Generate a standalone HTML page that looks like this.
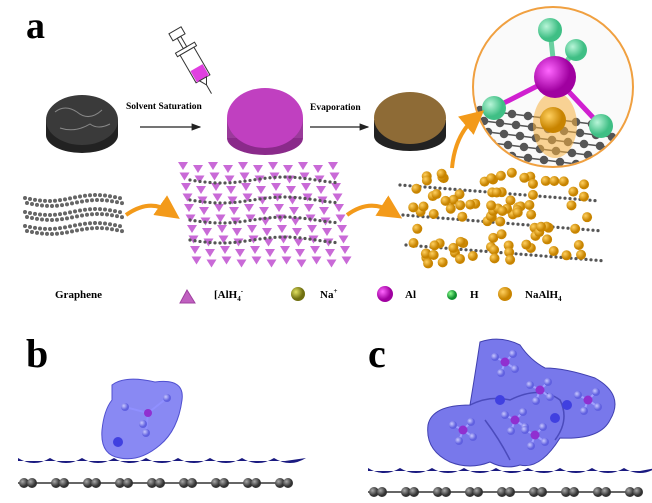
<!DOCTYPE html><html><head><style>body{margin:0;background:#fff}svg{display:block}text{font-family:"Liberation Serif",serif;font-weight:bold}</style></head><body>
<svg id="s" width="652" height="503" viewBox="0 0 652 503" xmlns="http://www.w3.org/2000/svg">
<defs>
<clipPath id="cl"><circle cx="553" cy="87" r="79"/></clipPath>
<radialGradient id="gb" cx="35%" cy="35%"><stop offset="0" stop-color="#aaa"/><stop offset="1" stop-color="#333"/></radialGradient>
<radialGradient id="go" cx="35%" cy="35%"><stop offset="0" stop-color="#ffd060"/><stop offset="1" stop-color="#c88400"/></radialGradient>
<radialGradient id="gm" cx="35%" cy="35%"><stop offset="0" stop-color="#ff66ff"/><stop offset="1" stop-color="#a000a0"/></radialGradient>
<radialGradient id="gh" cx="35%" cy="35%"><stop offset="0" stop-color="#b8f5d8"/><stop offset="1" stop-color="#3fbf85"/></radialGradient>
<radialGradient id="gn" cx="35%" cy="35%"><stop offset="0" stop-color="#e0e060"/><stop offset="1" stop-color="#707010"/></radialGradient>
<radialGradient id="gg" cx="35%" cy="35%"><stop offset="0" stop-color="#90ff90"/><stop offset="1" stop-color="#109030"/></radialGradient>
<radialGradient id="gp" cx="35%" cy="35%"><stop offset="0" stop-color="#c8c8ff"/><stop offset="1" stop-color="#6060e0"/></radialGradient>
<marker id="ar" markerWidth="8" markerHeight="8" refX="7" refY="4" orient="auto"><path d="M0,1 L8,4 L0,7z" fill="#222"/></marker>
<marker id="ao" markerWidth="6" markerHeight="6" refX="3" refY="3" orient="auto"><path d="M0,0 L6,3 L0,6z" fill="#f39a1a"/></marker>
</defs>
<text x="26" y="38" font-size="38">a</text>
<ellipse cx="82" cy="135" rx="36" ry="18" fill="#222"/>
<rect x="46" y="120" width="72" height="15" fill="#222"/>
<ellipse cx="82" cy="120" rx="36" ry="25" fill="#3a3a3a"/>
<path d="M55 112 q10-8 22 0 q12 10 25 -2 M60 128 q15 5 30-4 q8 6 20 0" stroke="#888" fill="none" stroke-width="1"/>
<g transform="rotate(-30 195 65)"><rect x="188" y="25" width="14" height="8" fill="none" stroke="#333"/><rect x="193" y="33" width="4" height="12" fill="none" stroke="#333"/><rect x="184" y="45" width="22" height="4" fill="none" stroke="#333"/><rect x="187" y="49" width="16" height="32" fill="#fff" stroke="#333"/><rect x="188" y="68" width="14" height="13" fill="#e040e0"/><path d="M191 81 L199 81 L195 88z" fill="#fff" stroke="#333"/><line x1="195" y1="88" x2="195" y2="98" stroke="#333"/></g>
<text x="126" y="109" font-size="9.5">Solvent Saturation</text>
<line x1="140" y1="127" x2="200" y2="127" stroke="#222" stroke-width="1.2" marker-end="url(#ar)"/>
<ellipse cx="265" cy="138" rx="38" ry="17" fill="#8a2a8a"/>
<rect x="227" y="118" width="76" height="20" fill="#9a3a9a"/>
<ellipse cx="265" cy="118" rx="38" ry="30" fill="#c040c0"/>
<text x="310" y="110" font-size="9.5">Evaporation</text>
<line x1="310" y1="127" x2="368" y2="127" stroke="#222" stroke-width="1.2" marker-end="url(#ar)"/>
<ellipse cx="410" cy="136" rx="36" ry="15" fill="#222"/>
<rect x="374" y="120" width="72" height="16" fill="#222"/>
<ellipse cx="410" cy="118" rx="36" ry="26" fill="#8e6b36"/>
<circle cx="553" cy="87" r="80" fill="#fafafa" stroke="#f0a040" stroke-width="2"/>
<g clip-path="url(#cl)">
<g id="zg" stroke="#555" stroke-width="1.5"></g>
<ellipse cx="555" cy="125" rx="22" ry="33" fill="#f5b040" opacity="0.55"/>
<circle cx="553" cy="120" r="13" fill="url(#go)"/>
<g stroke-width="5" stroke-linecap="round"><line x1="555" y1="77" x2="550" y2="30" stroke="#6ad0a0"/><line x1="555" y1="77" x2="575" y2="50" stroke="#6ad0a0"/><line x1="555" y1="77" x2="494" y2="108" stroke="#d020d0"/><line x1="555" y1="77" x2="601" y2="126" stroke="#d020d0"/></g>
<circle cx="550" cy="30" r="12" fill="url(#gh)"/><circle cx="576" cy="50" r="11" fill="url(#gh)"/>
<circle cx="555" cy="77" r="21" fill="url(#gm)"/>
<circle cx="494" cy="108" r="12" fill="url(#gh)"/><circle cx="601" cy="126" r="12" fill="url(#gh)"/>
</g>
<path d="M452 168 Q455 135 475 118" stroke="#f39a1a" stroke-width="4" fill="none" marker-end="url(#ao)"/>
<g id="gs" stroke="#666" stroke-width="0.8" fill="none"></g>
<path d="M126 215 Q150 198 170 212" stroke="#f39a1a" stroke-width="4" fill="none" marker-end="url(#ao)"/>
<g id="tri"></g>
<path d="M347 215 Q370 198 392 212" stroke="#f39a1a" stroke-width="4" fill="none" marker-end="url(#ao)"/>
<g id="na"></g>
<text x="55" y="298" font-size="11">Graphene</text>
<path d="M187 290 L180 303 L195 303z" fill="#c060c0" stroke="#a040a0"/>
<text x="214" y="298" font-size="11">[AlH<tspan font-size="7" dy="3">4</tspan><tspan font-size="7" dy="-8">-</tspan></text>
<circle cx="298" cy="294" r="7" fill="url(#gn)"/>
<text x="320" y="298" font-size="11">Na<tspan font-size="7" dy="-5">+</tspan></text>
<circle cx="385" cy="294" r="8" fill="url(#gm)"/>
<text x="405" y="298" font-size="11">Al</text>
<circle cx="452" cy="295" r="5" fill="url(#gg)"/>
<text x="470" y="298" font-size="11">H</text>
<circle cx="505" cy="294" r="7" fill="url(#go)"/>
<text x="525" y="298" font-size="11">NaAlH<tspan font-size="7" dy="3">4</tspan></text>
<text x="26" y="367" font-size="40">b</text>
<path d="M112 385 Q125 375 155 382 Q185 378 182 400 Q178 430 160 445 Q140 462 120 458 Q100 455 102 430 Q104 410 112 400z" fill="#6b6bf0" fill-opacity="0.8" stroke="#5050d0"/>
<circle cx="118" cy="442" r="5" fill="#4040e0"/>
<g stroke="#9090ff" stroke-width="2"><line x1="148" y1="413" x2="125" y2="407"/><line x1="148" y1="413" x2="167" y2="398"/><line x1="148" y1="413" x2="146" y2="432"/></g>
<circle cx="125" cy="407" r="4" fill="url(#gp)"/><circle cx="167" cy="398" r="4" fill="url(#gp)"/><circle cx="146" cy="433" r="4" fill="url(#gp)"/><circle cx="143" cy="424" r="4" fill="url(#gp)"/>
<circle cx="148" cy="413" r="4" fill="#9030d0"/>
<path id="wb" fill="#1a1a80"/>
<g id="cb"></g>
<text x="368" y="367" font-size="40">c</text>
<path d="M480 342 Q500 335 520 345 Q530 360 545 368 Q565 368 595 378 Q625 395 610 420 Q600 440 560 438 Q540 470 520 465 Q505 470 490 462 Q470 470 450 462 Q425 450 428 425 Q432 405 470 405 Q475 375 480 342z" fill="#6060e8" fill-opacity="0.85" stroke="#4040b0"/>
<path d="M470 405 Q490 395 510 400 Q540 385 560 400 Q570 420 555 440 M485 420 Q500 440 510 460" stroke="#3838a8" fill="none" stroke-width="1.5" opacity="0.7"/>
<g id="cm"></g>
<path id="wc" fill="#1a1a80"/>
<g id="cc"></g>
</svg>
<script>
var NS="http://www.w3.org/2000/svg";
function el(p,t,a){var e=document.createElementNS(NS,t);for(var k in a)e.setAttribute(k,a[k]);document.getElementById(p).appendChild(e);return e;}
for(var r=0;r<5;r++)for(var c=0;c<9;c++){var x=480+c*16+r*4,y=110+r*11+c*2;if(c<8)el("zg","line",{x1:x,y1:y,x2:x+16,y2:y+2});el("zg","circle",{cx:x,cy:y,r:3.5,fill:"#555"});}
for(var l=0;l<3;l++)for(var i=0;i<20;i++){var x=25+i*5,y=198+l*14+Math.sin(i/3)*3;el("gs","circle",{cx:x,cy:y,r:1.6,fill:"#666"});el("gs","circle",{cx:x+2,cy:y+5,r:1.6,fill:"#666"});}
for(var r=0;r<10;r++)for(var c=0;c<11;c++){var x=178+c*15+r*1.5,y=162+r*10.5+(c%2)*3;el("tri","path",{d:"M"+x+" "+y+" l10 0 l-5 8z",fill:"#c050d0",opacity:0.85});}
for(var l=0;l<4;l++)for(var i=0;i<30;i++){el("tri","circle",{cx:190+i*5,cy:180+l*20+Math.sin(i/4)*3,r:1.6,fill:"#555"});}
for(var l=0;l<3;l++)for(var i=0;i<40;i++){el("na","circle",{cx:400+i*5+l*3,cy:185+l*30+i*0.4,r:1.6,fill:"#555"});}
var s=7;for(var k=0;k<95;k++){s=(s*9301+49297)%233280;var rx=s/233280;s=(s*9301+49297)%233280;var ry=s/233280;el("na","circle",{cx:412+rx*180,cy:175+ry*90+rx*-8,r:5,fill:"url(#go)"});}
function wave(id,x0,x1,y){var d="M"+x0+" "+(y-2);for(var x=x0;x<x1;x+=32)d+=" Q"+(x+16)+" "+(y+8)+" "+(x+32)+" "+(y-2);d+=" L"+x1+" "+(y+1)+" L"+x0+" "+(y+1)+"z";document.getElementById(id).setAttribute("d",d);}
wave("wb",18,285,460);wave("wc",368,640,470);
function chain(id,x0,x1,y){el(id,"line",{x1:x0,y1:y,x2:x1,y2:y,stroke:"#666","stroke-width":2});for(var x=x0+6;x<x1;x+=32){el(id,"circle",{cx:x,cy:y,r:5,fill:"url(#gb)"});el(id,"circle",{cx:x+8,cy:y,r:5,fill:"url(#gb)"});}}
chain("cb",18,285,483);chain("cc",368,640,492);
var ms=[[505,362],[540,390],[588,400],[463,430],[515,420],[535,435]];
ms.forEach(function(m){[[-10,-5],[8,-8],[-4,11],[10,7]].forEach(function(o){el("cm","line",{x1:m[0],y1:m[1],x2:m[0]+o[0],y2:m[1]+o[1],stroke:"#a0a0ff","stroke-width":2});el("cm","circle",{cx:m[0]+o[0],cy:m[1]+o[1],r:4,fill:"url(#gp)"});});el("cm","circle",{cx:m[0],cy:m[1],r:4.5,fill:"#9030d0"});});
[[500,400],[555,418],[567,405]].forEach(function(p){el("cm","circle",{cx:p[0],cy:p[1],r:5,fill:"#4040e0"});});
</script>
</body></html>
